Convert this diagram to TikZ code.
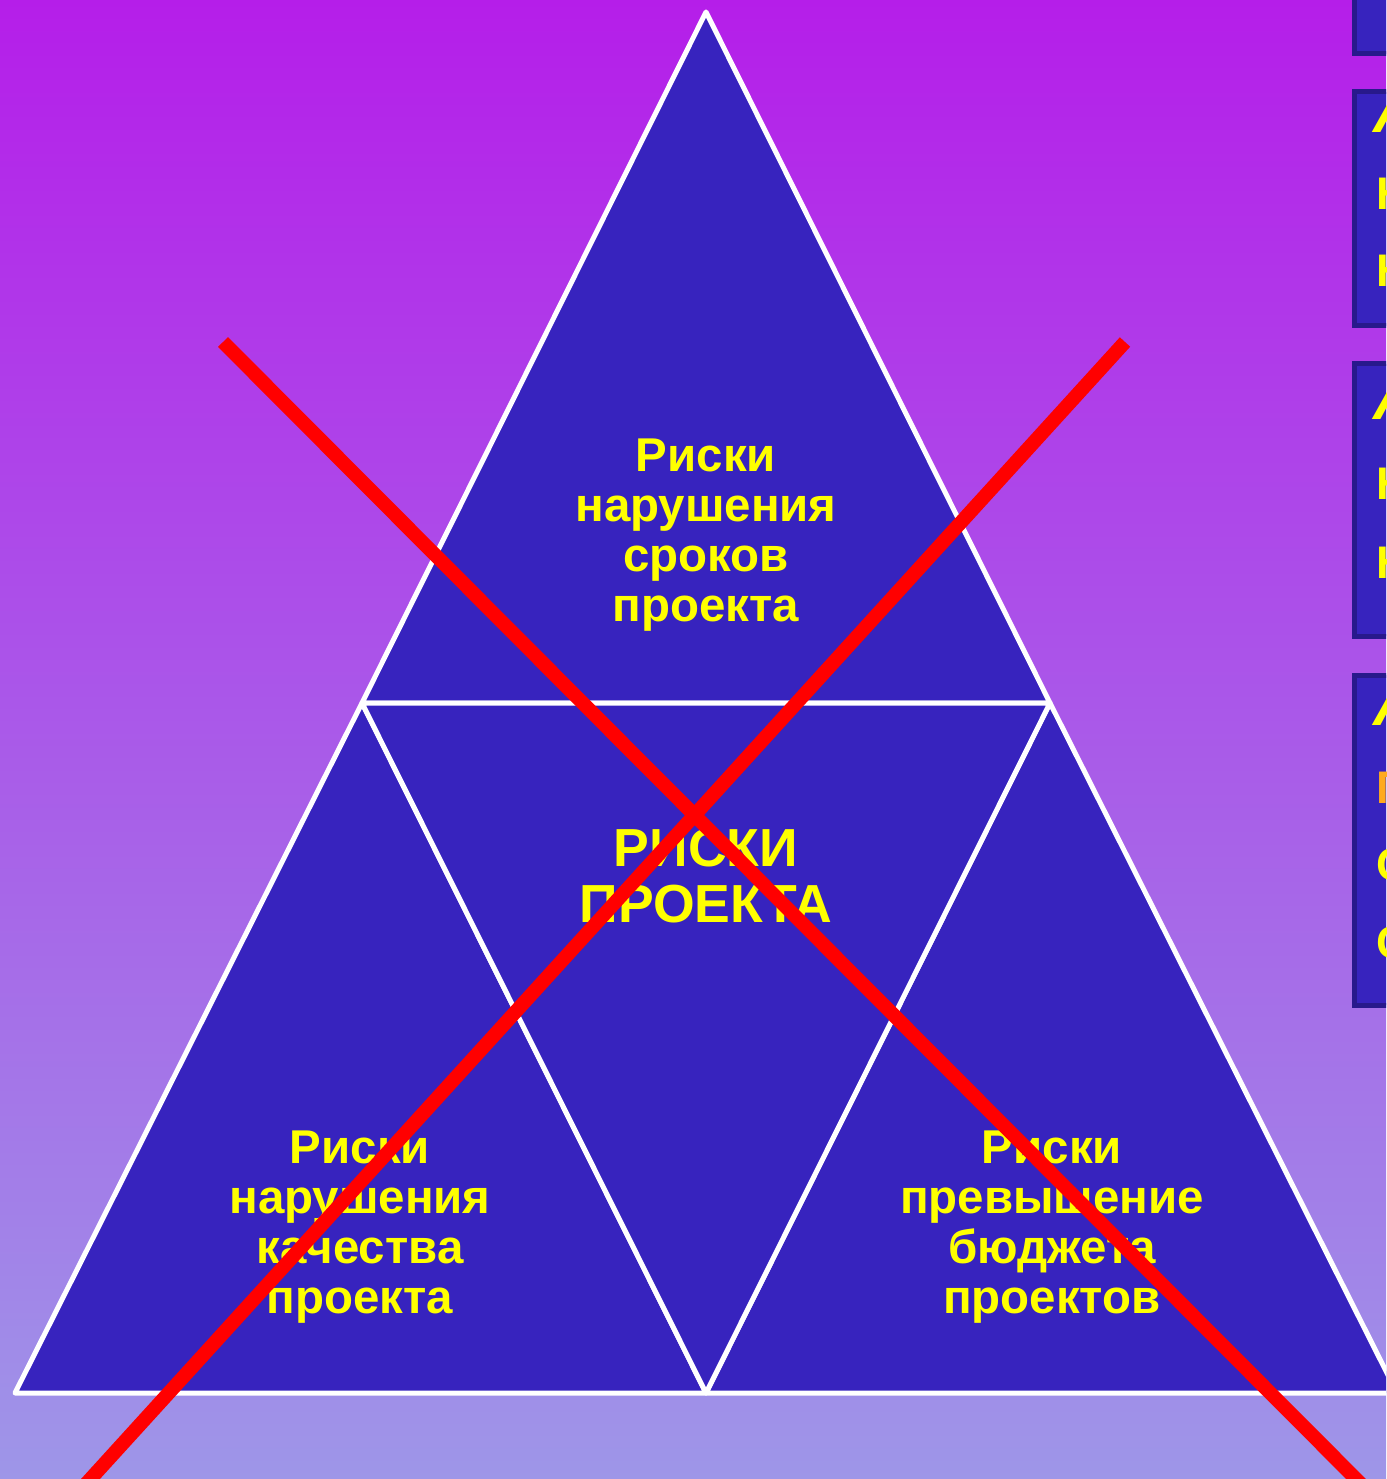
\documentclass[tikz,border=0pt]{standalone}
\usepackage{fontspec}
\setmainfont{Liberation Sans}
\definecolor{bgtop}{RGB}{181,30,233}
\definecolor{bgbot}{RGB}{158,150,232}
\definecolor{trifill}{RGB}{55,35,190}
\definecolor{boxedge}{RGB}{40,25,140}
\definecolor{txtyellow}{RGB}{255,255,0}
\definecolor{txtorange}{RGB}{255,170,30}
\tikzset{
  tri/.style={fill=trifill, draw=white, line width=5*0.02cm, line join=round},
  crossline/.style={draw=red, line width=14*0.02cm},
  lbl/.style={text=txtyellow, font=\bfseries\fontsize{27}{28.6}\selectfont, align=center, inner sep=0pt},
  biglbl/.style={text=txtyellow, font=\bfseries\fontsize{30.5}{31.5}\selectfont, align=center, inner sep=0pt},
  sidebox/.style={fill=trifill, draw=boxedge, line width=5*0.02cm},
  sidetxt/.style={text=txtyellow, font=\bfseries\fontsize{26}{26}\selectfont, anchor=base west, inner sep=0pt},
  sidehead/.style={sidetxt, font=\bfseries\itshape\fontsize{34}{34}\selectfont},
}
\begin{document}
\begin{tikzpicture}[x=0.02cm, y=-0.02cm]
\useasboundingbox (0,0) rectangle (1386,1479);
\begin{scope}
\clip (0,0) rectangle (1386,1479);
\shade[top color=bgtop, bottom color=bgbot] (0,0) rectangle (1386,1479);
% side boxes (cut off at the right edge)
\draw[sidebox] (1354,-20) rectangle (1500,54);
\draw[sidebox] (1354,92) rectangle (1500,326);
\draw[sidebox] (1354,364) rectangle (1500,636);
\draw[sidebox] (1354,675) rectangle (1500,1005);
\node[sidehead] (b2a) at (1373,133) {А};
\node[sidetxt] (b2b) at (1376,210) {Н};
\node[sidetxt] (b2c) at (1376,287) {Н};
\node[sidehead] (b3a) at (1373,420) {А};
\node[sidetxt] (b3b) at (1376,500) {Н};
\node[sidetxt] (b3c) at (1376,578) {Н};
\node[sidehead] (b4a) at (1373,725) {А};
\node[sidetxt, text=txtorange] (b4b) at (1376,803) {П};
\node[sidetxt] (b4c) at (1376,880) {С};
\node[sidetxt] (b4d) at (1376,958) {С};
% triangles
\coordinate (A) at (706,12);
\coordinate (L) at (15,1393);
\coordinate (R) at (1397,1393);
\coordinate (ML) at (362,703);
\coordinate (MR) at (1050,703);
\coordinate (MB) at (706,1393);
\draw[tri] (A) -- (MR) -- (ML) -- cycle;
\draw[tri] (ML) -- (MB) -- (L) -- cycle;
\draw[tri] (MR) -- (R) -- (MB) -- cycle;
\draw[tri] (ML) -- (MR) -- (MB) -- cycle;
% labels
\node[lbl] (top) at (706,535) {Риски\\нарушения\\сроков\\проекта};
\node[lbl] (left) at (360,1227) {Риски\\нарушения\\качества\\проекта};
\node[lbl] (right) at (1052,1227) {Риски\\превышение\\бюджета\\проектов};
\node[biglbl] (mid) at (706,876) {РИСКИ\\ПРОЕКТА};
% red cross
\coordinate (x1a) at (223,342);
\coordinate (x1b) at (1362,1485);
\coordinate (x2a) at (1125,342);
\coordinate (x2b) at (85,1485);
\draw[crossline] (x1a) -- (x1b);
\draw[crossline] (x2a) -- (x2b);
\end{scope}
\end{tikzpicture}
\end{document}
